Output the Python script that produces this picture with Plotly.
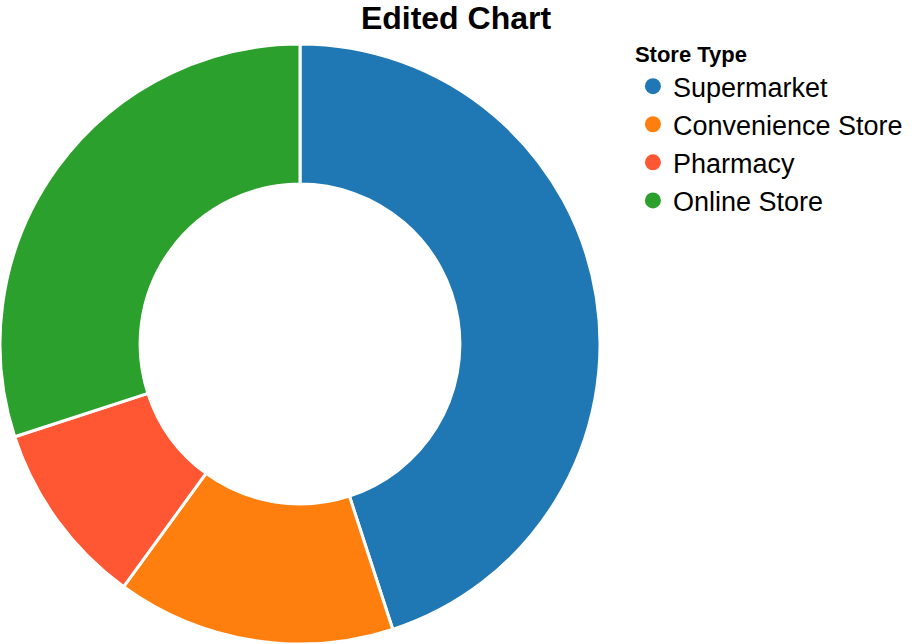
import plotly.graph_objects as go

categories = ["Supermarket", "Convenience Store", "Pharmacy", "Online Store"]
values = [45, 15, 10, 30]
colors = ["#1f77b4", "#ff7f0e", "#ff5733", "#2ca02c"]

fig = go.Figure()
fig.add_trace(go.Pie(
    labels=categories,
    values=values,
    hole=0.533,
    sort=False,
    direction="clockwise",
    rotation=0,
    marker=dict(colors=colors, line=dict(color="white", width=3)),
    textinfo="none",
    hoverinfo="label+value+percent",
    showlegend=False,
    domain=dict(x=[0, 600/912], y=[0, 1]),
))

# legend entries with circle symbols
for name, color in zip(categories, colors):
    fig.add_trace(go.Scatter(
        x=[None], y=[None], mode="markers", name=name,
        marker=dict(symbol="circle", size=20, color=color),
        showlegend=True, hoverinfo="skip",
    ))

fig.update_layout(
    width=912, height=644,
    margin=dict(l=0, r=0, t=44, b=0, autoexpand=False),
    paper_bgcolor="white",
    plot_bgcolor="white",
    font=dict(family="Liberation Sans, Arial, sans-serif", color="black"),
    xaxis=dict(visible=False),
    yaxis=dict(visible=False),
    title=dict(text="<b>Edited Chart</b>", x=0.5, xanchor="center",
               xref="container", yref="container", y=0.972, yanchor="middle",
               font=dict(size=32, color="black")),
    legend=dict(
        title=dict(text="<b>Store Type</b>", font=dict(size=22)),
        font=dict(size=27),
        x=0.694, xanchor="left", y=0.948, yanchor="top", yref="container",
        itemsizing="trace",
        traceorder="normal",
        bgcolor="rgba(0,0,0,0)",
    ),
)

fig.write_html("out.html",
               config={"displayModeBar": False},
               post_script="document.body.style.margin='0';document.body.style.overflow='hidden';")
